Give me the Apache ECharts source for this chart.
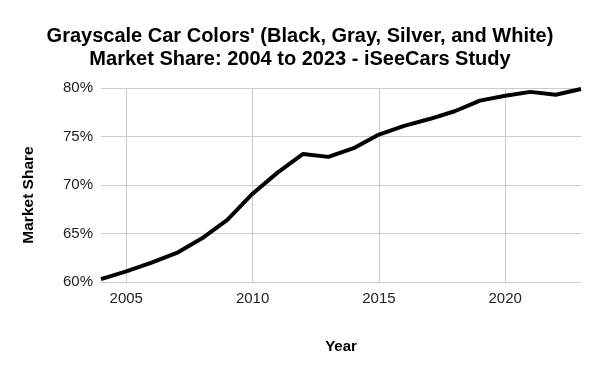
<!DOCTYPE html>
<html><head><meta charset="utf-8">
<script src="https://cdn.jsdelivr.net/npm/echarts@6/dist/echarts.min.js"></script>
<style>html,body{margin:0;padding:0;background:#fff}#c{width:600px;height:371px}</style>
</head><body><div id="c"></div>
<script>
const years = [2004,2005,2006,2007,2008,2009,2010,2011,2012,2013,2014,2015,2016,2017,2018,2019,2020,2021,2022,2023];
const marketShare = [60.3,61.1,62.0,63.0,64.5,66.4,69.1,71.3,73.2,72.9,73.8,75.2,76.1,76.8,77.6,78.7,79.2,79.6,79.3,79.9];
const titleLines = ["Grayscale Car Colors' (Black, Gray, Silver, and White)", "Market Share: 2004 to 2023 - iSeeCars Study"];
const chart = echarts.init(document.getElementById('c'), null, {renderer:'canvas'});
const ff = '"Liberation Sans", Arial, sans-serif';
chart.setOption({
  animation:false,
  backgroundColor:'#fff',
  title:{text:titleLines.join('\n'), left:'center', top:20,
    textStyle:{fontFamily:ff, fontSize:20, fontWeight:'bold', color:'#000', lineHeight:23}},
  grid:{left:101, right:19, top:88, bottom:89, containLabel:false},
  xAxis:{type:'category', data:years.map(String), boundaryGap:false,
    name:'Year', nameLocation:'middle', nameGap:57,
    nameTextStyle:{fontFamily:ff, fontSize:15, fontWeight:'bold', color:'#000'},
    axisLine:{show:true, lineStyle:{color:'#cccccc', width:1}},
    axisTick:{show:false},
    axisLabel:{interval:(i,v)=>Number(v)%5===0, fontFamily:ff, fontSize:15, color:'#222', margin:9},
    splitLine:{show:true, interval:(i,v)=>Number(v)%5===0, lineStyle:{color:'#cccccc', width:1}}
  },
  yAxis:{type:'value', min:60, max:80, interval:5,
    name:'Market Share', nameLocation:'middle', nameGap:64,
    nameTextStyle:{fontFamily:ff, fontSize:15.5, fontWeight:'bold', color:'#000', padding:[0,20,0,0]},
    axisLine:{show:false}, axisTick:{show:false},
    axisLabel:{formatter:'{value}%', fontFamily:ff, fontSize:15, color:'#222', margin:8},
    splitLine:{lineStyle:{color:'#cccccc', width:1}}
  },
  series:[{type:'line', data:marketShare, symbol:'none', lineStyle:{color:'#000', width:4}, clip:false}]
});
</script></body></html>
